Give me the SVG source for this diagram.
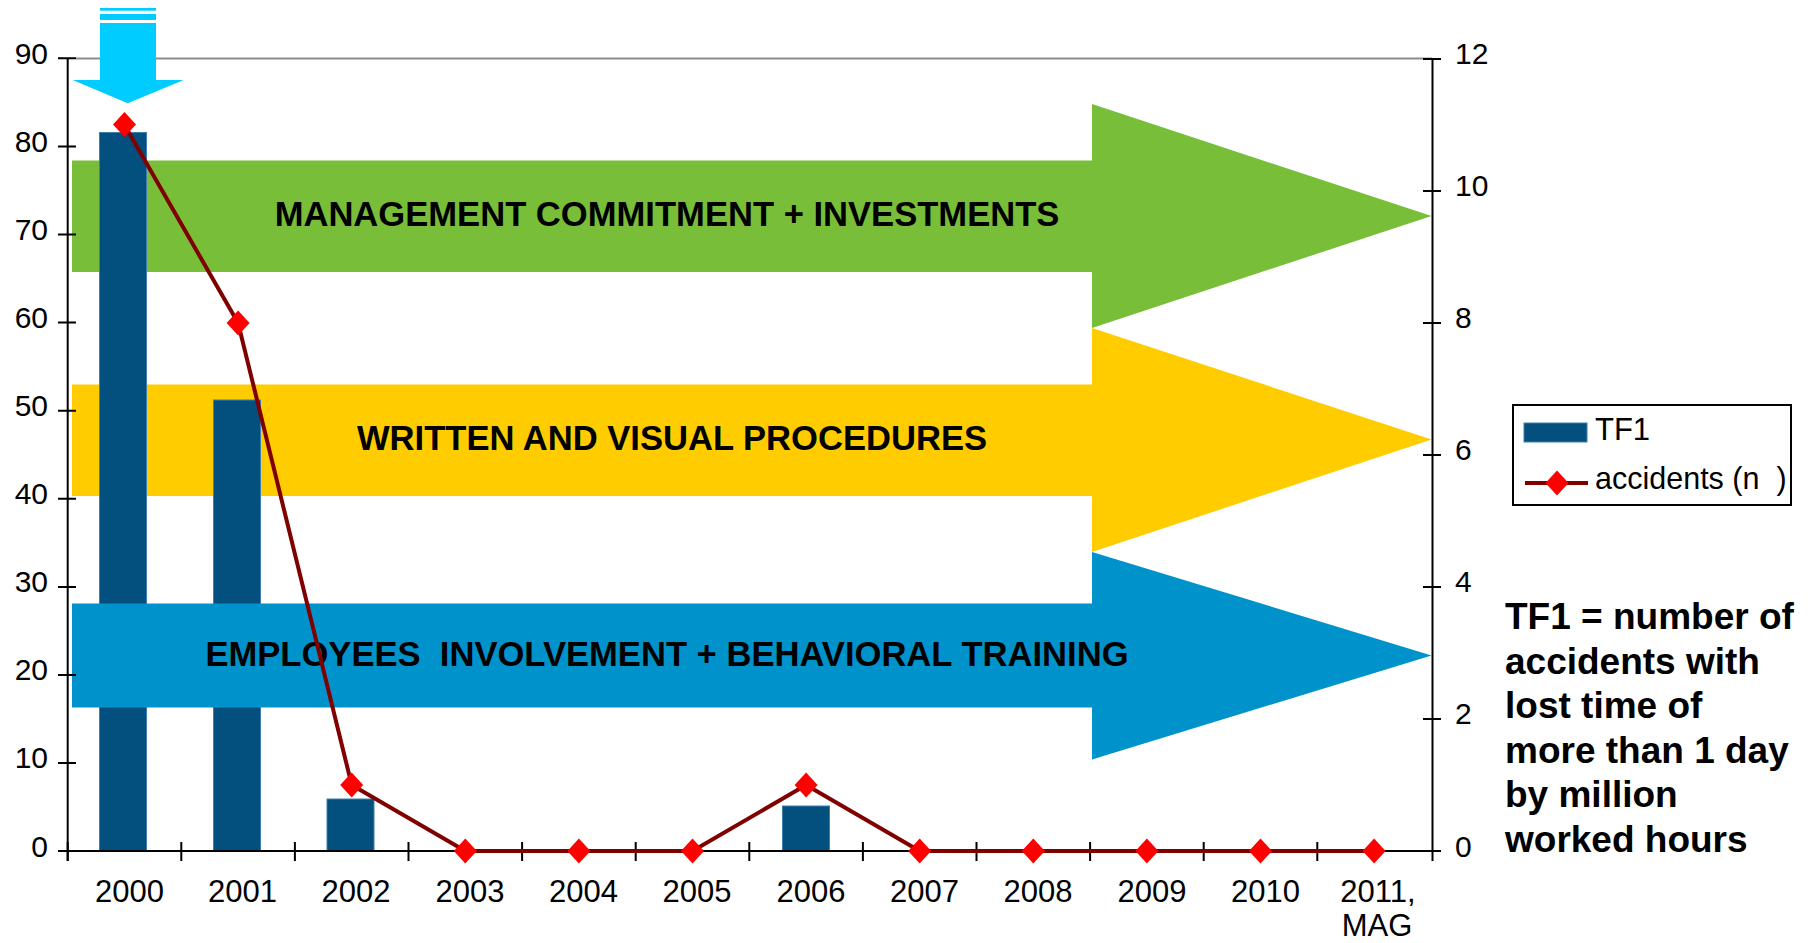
<svg xmlns="http://www.w3.org/2000/svg" width="1810" height="943" viewBox="0 0 1810 943">
<style>
.ax{stroke:#000;stroke-width:2;fill:none}
.lbl{font-family:"Liberation Sans",Arial,sans-serif;font-size:30px;fill:#000}
.yr{font-family:"Liberation Sans",Arial,sans-serif;font-size:31px;fill:#000;text-anchor:middle}
.big{font-family:"Liberation Sans",Arial,sans-serif;font-size:34.6px;font-weight:bold;fill:#000;text-anchor:middle}
.note{font-family:"Liberation Sans",Arial,sans-serif;font-size:37px;font-weight:bold;fill:#000}
.bar{fill:#03507F;stroke:#3f7fae;stroke-width:1}
.dia{fill:#FF0000}
</style>
<defs>
<polygon id="d" points="0,-12.5 11.5,0 0,12.5 -11.5,0"/>
</defs>
<rect width="1810" height="943" fill="#fff"/>
<!-- gridline -->
<line x1="76" y1="58.5" x2="1432" y2="58.5" stroke="#8c8c8c" stroke-width="2"/>
<!-- back arrows -->
<g id="arrow-management">
<polygon points="72,160.5 1092,160.5 1092,104 1431.5,216 1092,328 1092,272 72,272" fill="#78BE38"/>
<text class="big" x="667" y="226">MANAGEMENT COMMITMENT + INVESTMENTS</text>
</g>
<g id="arrow-procedures">
<polygon points="72,384.5 1092,384.5 1092,328 1431.5,439.5 1092,552 1092,496 72,496" fill="#FFCC00"/>
<text class="big" x="672" y="450">WRITTEN AND VISUAL PROCEDURES</text>
</g>
<!-- bars -->
<g id="bars">
<rect class="bar" x="99.5" y="132.5" width="47" height="718.5"/>
<rect class="bar" x="213.5" y="400" width="47" height="451"/>
<rect class="bar" x="327" y="799" width="47" height="52"/>
<rect class="bar" x="782.5" y="806" width="47" height="45"/>
</g>
<g id="arrow-employees">
<polygon points="72,603.5 1092,603.5 1092,552 1431.5,655.5 1092,759.5 1092,707.5 72,707.5" fill="#0093CB"/>
<text class="big" x="667" y="666">EMPLOYEES&#160; INVOLVEMENT + BEHAVIORAL TRAINING</text>
</g>
<!-- axes -->
<g id="left-axis">
<line class="ax" x1="67.7" y1="58" x2="67.7" y2="861"/>
<path class="ax" d="M58 58.3H76M58 146.4H76M58 234.5H76M58 322.6H76M58 410.7H76M58 498.8H76M58 586.9H76M58 675H76M58 763.1H76M58 851H76"/>
<g class="lbl" text-anchor="end">
<text x="48" y="63.5">90</text>
<text x="48" y="151.6">80</text>
<text x="48" y="239.7">70</text>
<text x="48" y="327.8">60</text>
<text x="48" y="415.9">50</text>
<text x="48" y="504">40</text>
<text x="48" y="592.1">30</text>
<text x="48" y="680.2">20</text>
<text x="48" y="768.3">10</text>
<text x="48" y="856.5">0</text>
</g>
</g>
<g id="right-axis">
<line class="ax" x1="1432.5" y1="58" x2="1432.5" y2="861"/>
<path class="ax" d="M1423 59H1441M1423 191H1441M1423 323H1441M1423 455H1441M1423 587H1441M1423 719H1441M1423 851H1441"/>
<g class="lbl">
<text x="1455" y="64">12</text>
<text x="1455" y="196">10</text>
<text x="1455" y="328">8</text>
<text x="1455" y="460">6</text>
<text x="1455" y="592">4</text>
<text x="1455" y="724">2</text>
<text x="1455" y="856.5">0</text>
</g>
</g>
<g id="x-axis">
<line class="ax" x1="58" y1="851" x2="1441" y2="851"/>
<path class="ax" d="M67.7 842V861M181.3 842V861M294.9 842V861M408.5 842V861M522.1 842V861M635.7 842V861M749.3 842V861M862.9 842V861M976.5 842V861M1090.1 842V861M1203.7 842V861M1317.3 842V861"/>
<g class="yr">
<text x="129.5" y="902">2000</text>
<text x="242.5" y="902">2001</text>
<text x="356" y="902">2002</text>
<text x="470" y="902">2003</text>
<text x="583.5" y="902">2004</text>
<text x="697" y="902">2005</text>
<text x="811" y="902">2006</text>
<text x="924.5" y="902">2007</text>
<text x="1038" y="902">2008</text>
<text x="1152" y="902">2009</text>
<text x="1265.5" y="902">2010</text>
<text x="1378" y="902">2011,</text>
<text x="1377" y="936">MAG</text>
</g>
</g>
<!-- highlight arrow -->
<g id="marker-arrow" fill="#00CCFF">
<rect x="100" y="8" width="56" height="2.7"/>
<rect x="100" y="14" width="56" height="6"/>
<polygon points="100,23 156,23 156,80 183.7,80 127.7,103.3 72.7,80 100,80"/>
</g>
<!-- accidents line -->
<g id="connectors">
<polyline points="124.5,125 238.1,323 351.7,785 465.3,851 578.9,851 692.5,851 806.1,785 919.7,851 1033.3,851 1146.9,851 1260.5,851 1374.1,851" fill="none" stroke="#800000" stroke-width="4" stroke-linejoin="round"/>
</g>
<g id="accident-points" class="dia">
<use href="#d" x="124.5" y="124.5"/>
<use href="#d" x="238.1" y="323"/>
<use href="#d" x="351.7" y="785"/>
<use href="#d" x="465.3" y="851"/>
<use href="#d" x="578.9" y="851"/>
<use href="#d" x="692.5" y="851"/>
<use href="#d" x="806.1" y="785"/>
<use href="#d" x="919.7" y="851"/>
<use href="#d" x="1033.3" y="851"/>
<use href="#d" x="1146.9" y="851"/>
<use href="#d" x="1260.5" y="851"/>
<use href="#d" x="1374.1" y="851"/>
</g>
<!-- legend -->
<g id="legend">
<rect x="1513" y="405" width="278" height="100" fill="#fff" stroke="#000" stroke-width="2"/>
<rect x="1524" y="423" width="63" height="19" fill="#03507F" stroke="#3f7fae" stroke-width="1"/>
<text class="lbl" x="1595" y="439.5" style="font-size:31px">TF1</text>
<line x1="1525" y1="483" x2="1588" y2="483" stroke="#800000" stroke-width="4"/>
<use href="#d" x="1557" y="483" fill="#FF0000"/>
<text class="lbl" x="1595" y="488.5" style="font-size:30.5px">accidents (n&#160;&#160;)</text>
</g>
<g id="definition" class="note">
<text x="1505" y="629">TF1 = number of</text>
<text x="1505" y="673.6">accidents with</text>
<text x="1505" y="718.2">lost time of</text>
<text x="1505" y="762.8">more than 1 day</text>
<text x="1505" y="807.4">by million</text>
<text x="1505" y="852">worked hours</text>
</g>
</svg>
